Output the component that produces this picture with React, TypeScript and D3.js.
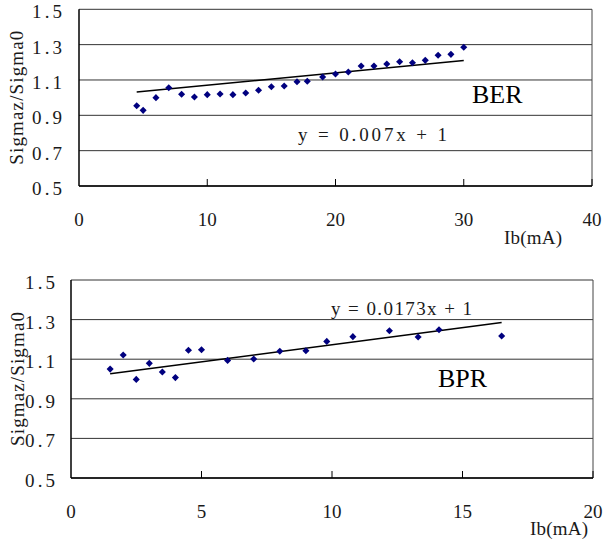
import React from "react";
import * as d3 from "d3";

const yTicks = [0.5, 0.7, 0.9, 1.1, 1.3, 1.5];
const yTickLabels = ["0.5", "0.7", "0.9", "1.1", "1.3", "1.5"];

const berX = [4.5, 5, 6, 7, 8, 9, 10, 11, 12, 13, 14, 15, 16, 17, 17.8, 19, 20, 21, 22, 23, 24, 25, 26, 27, 28, 29, 30];
const berY = [0.954, 0.928, 1.0, 1.056, 1.019, 1.004, 1.017, 1.021, 1.017, 1.026, 1.042, 1.062, 1.066, 1.09, 1.093, 1.117, 1.134, 1.145, 1.179, 1.179, 1.19, 1.203, 1.198, 1.211, 1.24, 1.245, 1.285];
const berXTicks = [0, 10, 20, 30, 40];
const berTrend = { slope: 0.007, intercept: 1, from: 4.5, to: 30 };
const berEq = "y = 0.007x + 1";
const berName = "BER";

const bprX = [1.5, 2, 2.5, 3, 3.5, 4, 4.5, 5, 6, 7, 8, 9, 9.8, 10.8, 12.2, 13.3, 14.1, 16.5];
const bprY = [1.05, 1.121, 0.998, 1.079, 1.035, 1.007, 1.145, 1.148, 1.094, 1.101, 1.14, 1.143, 1.19, 1.214, 1.244, 1.212, 1.249, 1.217];
const bprXTicks = [0, 5, 10, 15, 20];
const bprTrend = { slope: 0.0173, intercept: 1, from: 1.5, to: 16.5 };
const bprEq = "y = 0.0173x + 1";
const bprName = "BPR";

const yTitle = "Sigmaz/Sigma0";
const xTitle = "Ib(mA)";

const SERIF = "'Liberation Serif', 'DejaVu Serif', serif";

type PanelProps = {
  xs: number[];
  ys: number[];
  xTicks: number[];
  trend: { slope: number; intercept: number; from: number; to: number };
  eq: string;
  name: string;
  box: { left: number; right: number; top: number; bottom: number };
  yLabelRight: number;
  eqPos: { x: number; y: number; len: number };
  namePos: { x: number; y: number };
  xTitlePos: { x: number; y: number };
  yTitleX: number;
};

function Panel(p: PanelProps) {
  const x = d3.scaleLinear().domain([p.xTicks[0], p.xTicks[p.xTicks.length - 1]]).range([p.box.left, p.box.right]);
  const y = d3.scaleLinear().domain([0.5, 1.5]).range([p.box.bottom, p.box.top]);
  const diamond = d3.symbol().type(d3.symbolSquare).size(25)();
  const line = d3.line<number>().x((d) => x(d)).y((d) => y(p.trend.slope * d + p.trend.intercept));
  const cy = (p.box.top + p.box.bottom) / 2;
  return (
    <g>
      {yTicks.map((t) => (
        <line key={"g" + t} x1={p.box.left} x2={p.box.right} y1={y(t)} y2={y(t)} stroke="#333" strokeWidth={1} />
      ))}
      <line x1={p.box.right} x2={p.box.right} y1={p.box.top} y2={p.box.bottom} stroke="#444" strokeWidth={1} />
      <line x1={p.box.left} x2={p.box.left} y1={p.box.top} y2={p.box.bottom} stroke="#000" strokeWidth={1.5} />
      <line x1={p.box.left} x2={p.box.right} y1={p.box.bottom} y2={p.box.bottom} stroke="#000" strokeWidth={1.5} />
      {p.xTicks.slice(1).map((t) => (
        <line key={"t" + t} x1={x(t)} x2={x(t)} y1={p.box.bottom} y2={p.box.bottom - 7} stroke="#000" strokeWidth={1} />
      ))}
      {yTicks.map((t, i) => (
        <text key={"yl" + t} x={p.yLabelRight} y={y(t) + 9} textAnchor="end" fontFamily={SERIF} fontSize={19}
          fill="#1a1a1a" textLength={30} lengthAdjust="spacing">{yTickLabels[i]}</text>
      ))}
      {p.xTicks.map((t) => (
        <text key={"xl" + t} x={x(t)} y={p.box.bottom + 40} textAnchor="middle" fontFamily={SERIF} fontSize={19} fill="#1a1a1a">{t}</text>
      ))}
      <path d={line([p.trend.from, p.trend.to]) || ""} stroke="#000" strokeWidth={1.5} fill="none" />
      {p.xs.map((v, i) => (
        <path key={"p" + i} d={diamond} transform={`translate(${x(v)},${y(p.ys[i])}) rotate(45)`} fill="#00007f" />
      ))}
      <text x={p.eqPos.x} y={p.eqPos.y} fontFamily={SERIF} fontSize={19} fill="#1a1a1a" textLength={p.eqPos.len} lengthAdjust="spacing">{p.eq}</text>
      <text x={p.namePos.x} y={p.namePos.y} fontFamily={SERIF} fontSize={26} fill="#000">{p.name}</text>
      <text x={p.xTitlePos.x} y={p.xTitlePos.y} fontFamily={SERIF} fontSize={19} fill="#1a1a1a" textLength={58} lengthAdjust="spacing">{xTitle}</text>
      <text transform={`translate(${p.yTitleX},${cy}) rotate(-90)`} textAnchor="middle" dominantBaseline="central"
        fontFamily={SERIF} fontSize={19} fill="#1a1a1a" textLength={134} lengthAdjust="spacing">{yTitle}</text>
    </g>
  );
}

export default function App() {
  return (
    <div style={{ position: "absolute", left: 0, top: 0 }}>
      <svg width={603} height={540} style={{ display: "block", background: "#fff" }}>
        <rect width={603} height={540} fill="#fff" />
        <Panel xs={berX} ys={berY} xTicks={berXTicks} trend={berTrend} eq={berEq} name={berName}
          box={{ left: 79, right: 592, top: 9.3, bottom: 186 }} yLabelRight={62}
          eqPos={{ x: 298, y: 141, len: 149 }} namePos={{ x: 472, y: 103 }}
          xTitlePos={{ x: 504, y: 244 }} yTitleX={16} />
        <Panel xs={bprX} ys={bprY} xTicks={bprXTicks} trend={bprTrend} eq={bprEq} name={bprName}
          box={{ left: 71, right: 593, top: 280, bottom: 478 }} yLabelRight={55}
          eqPos={{ x: 331, y: 315, len: 141 }} namePos={{ x: 438, y: 387 }}
          xTitlePos={{ x: 530, y: 535 }} yTitleX={17} />
      </svg>
    </div>
  );
}
